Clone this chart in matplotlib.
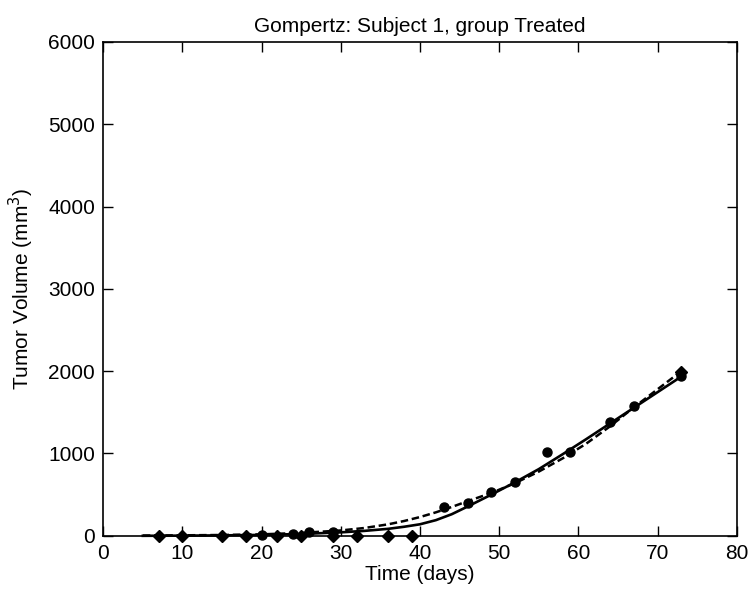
import matplotlib
matplotlib.use("Agg")
import matplotlib.pyplot as plt

plt.rcParams['font.family'] = ['Liberation Sans', 'DejaVu Sans']

# measured tumour volumes for the subject
obs_days = [20, 24, 26, 29, 43, 46, 49, 52, 56, 59, 64, 67, 73]
obs_vol = [15, 25, 50, 45, 344, 397, 531, 648, 1012, 1012, 1380, 1580, 1944]

# points plotted with diamonds
dia_days = [7, 10, 15, 18, 22, 25, 29, 32, 36, 39, 73]
dia_vol = [0, 0, 0, 0, 0, 0, 0, 0, 0, 0, 1985]

# model curves
fit_days = [5, 10, 15, 20, 25, 30, 33, 36, 38, 40, 42, 44, 46, 49, 52, 55, 58, 61, 64, 67, 70, 73]
fit_solid = [0, 2, 5, 11, 22, 42, 60, 85, 110, 140, 190, 262, 355, 500, 650, 810, 990, 1175, 1365, 1555, 1745, 1935]
fit_dashed = [3, 6, 10, 18, 35, 65, 95, 140, 180, 228, 285, 350, 420, 520, 640, 780, 940, 1120, 1330, 1560, 1780, 2000]

fig = plt.figure(figsize=(7.48, 5.98), dpi=100)
ax = fig.add_axes([0.138, 0.104, 0.847, 0.826])

ax.plot(fit_days, fit_solid, '-', color='black', lw=1.9, clip_on=False)
ax.plot(fit_days, fit_dashed, '--', color='black', lw=1.8, dashes=(3, 1.5), clip_on=False)
ax.plot(obs_days, obs_vol, 'o', color='black', ms=6.5, ls='none', clip_on=False)
ax.plot(dia_days, dia_vol, 'D', color='black', ms=6, ls='none', clip_on=False, zorder=3)

ax.set_xlim(0, 80)
ax.set_ylim(0, 6000)
ax.set_xticks(range(0, 81, 10))
ax.set_yticks(range(0, 6001, 1000))
ax.tick_params(direction='in', top=True, right=True, length=7, width=1,
               labelsize=15, pad=6)
for s in ax.spines.values():
    s.set_linewidth(1.2)

ax.set_title('Gompertz: Subject 1, group Treated', fontsize=15, pad=7)
ax.set_xlabel('Time (days)', fontsize=15, labelpad=1)
ax.set_ylabel('Tumor Volume (mm$^3$)', fontsize=15, labelpad=9)

fig.savefig('out.png', dpi=100)
